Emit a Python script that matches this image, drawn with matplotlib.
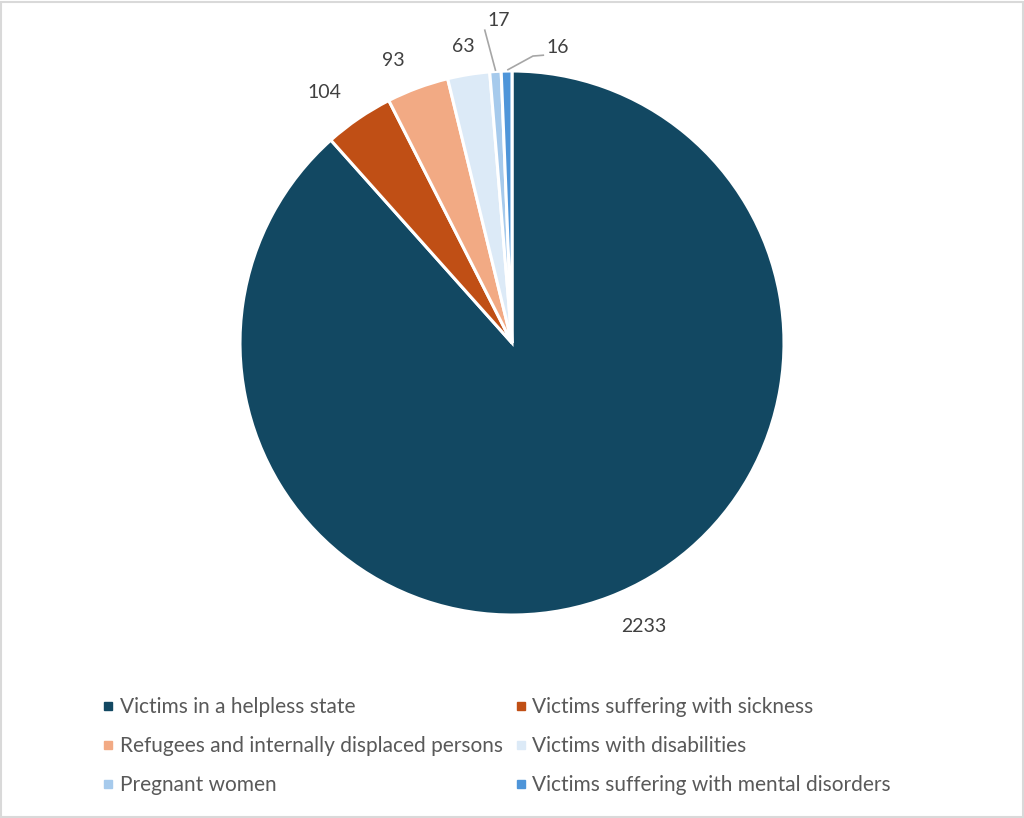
import matplotlib
matplotlib.use("Agg")
import matplotlib.pyplot as plt
from matplotlib.lines import Line2D
from matplotlib.patches import Rectangle
import numpy as np

categories = [
    "Victims in a helpless state",
    "Victims suffering with sickness",
    "Refugees and internally displaced persons",
    "Victims with disabilities",
    "Pregnant women",
    "Victims suffering with mental disorders",
]
values = [2233, 104, 93, 63, 17, 16]
colors = ["#124862", "#C04F15", "#F2AA84", "#DCEAF7", "#A6CAEC", "#4E95D9"]

plt.rcParams['font.family'] = ['Lato', 'DejaVu Sans']
text_color = "#404040"
legend_color = "#595959"

W, H = 1024, 818
fig = plt.figure(figsize=(W / 100, H / 100), dpi=100)
cx, cy, R = 512, 343, 272
ax = fig.add_axes([(cx - R) / W, (H - cy - R) / H, 2 * R / W, 2 * R / H])

wedges, _ = ax.pie(values, colors=colors, startangle=90, counterclock=False,
                   radius=1.0, wedgeprops=dict(edgecolor='white', linewidth=2.2),
                   center=(0, 0), frame=False)
ax.set_xlim(-1, 1)
ax.set_ylim(-1, 1)
ax.set_aspect('equal')
ax.axis('off')

# label layout: (radial distance, angle shift deg) for normal labels; explicit for small
label_r = [1.15, 1.15, 1.125, 1.105]
label_shift = [4.0, 2.5, 2.5, 0.2]
for i, w in enumerate(wedges):
    mid = np.deg2rad((w.theta1 + w.theta2) / 2)
    if i < 4:
        a = mid + np.deg2rad(label_shift[i])
        r = label_r[i]
        ax.text(r * np.cos(a), r * np.sin(a), str(values[i]), ha='center', va='center',
                fontsize=14, color=text_color)
    else:
        ex, ey = np.cos(mid), np.sin(mid)
        if i == 4:
            tx, ty = -0.048, 1.185
            ax.plot([ex, -0.10], [ey + 0.005, 1.15], color='#A6A6A6', lw=1.2, clip_on=False)
        else:
            tx, ty = 0.169, 1.085
            ax.plot([ex + 0.005, 0.077, 0.115], [ey + 0.005, 1.055, 1.058],
                    color='#A6A6A6', lw=1.2, clip_on=False)
        ax.text(tx, ty, str(values[i]), ha='center', va='center',
                fontsize=14, color=text_color)

order = [0, 2, 4, 1, 3, 5]
handles = [Line2D([], [], marker='s', linestyle='none', markersize=6,
                  markerfacecolor=colors[k], markeredgecolor=colors[k]) for k in order]
labels = [categories[k] for k in order]
fig.legend(handles, labels, loc='upper left', bbox_to_anchor=(94.5 / W, 1 - 689 / H),
           ncol=2, frameon=False, fontsize=15.0, labelcolor=legend_color,
           handlelength=0.5, handletextpad=0.3, columnspacing=0.62,
           labelspacing=0.9, borderaxespad=0)

fig.patches.append(Rectangle((0.001, 0.001), 0.998, 0.997, transform=fig.transFigure,
                             fill=False, edgecolor='#D9D9D9', linewidth=1.5))

fig.savefig("out.png", dpi=100, facecolor='white')
